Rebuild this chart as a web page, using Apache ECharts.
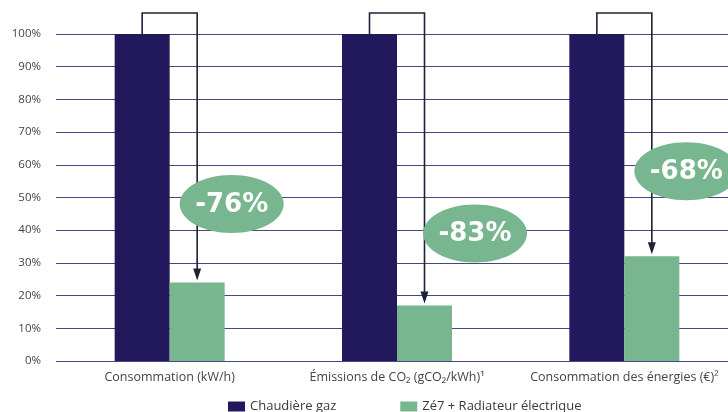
<!DOCTYPE html>
<html>
<head>
<meta charset="utf-8">
<script src="https://cdn.jsdelivr.net/npm/echarts@6/dist/echarts.min.js"></script>
<style>
  html, body { margin: 0; padding: 0; background: #fff; overflow: hidden; }
  #main { width: 740px; height: 412px; }
</style>
</head>
<body>
<div id="main"></div>
<script>
// catégories et valeurs (en % de la chaudière gaz)
var categories = ['Consommation (kW/h)', 'Émissions de CO₂ (gCO₂/kWh)¹', 'Consommation des énergies (€)²'];
var gasValues = [100, 100, 100];
var elecValues = [24, 17, 32];
var reductions = ['-76%', '-83%', '-68%'];
var badgeLevels = [48, 39, 58];   // hauteur des pastilles, en %
var yTicks = [0, 10, 20, 30, 40, 50, 60, 70, 80, 90, 100];

var NAVY = '#22195c';
var GREEN = '#77b68e';
var FONT = '"Open Sans", "DejaVu Sans", sans-serif';

// le graphique déborde un peu à droite, comme l'original (coupé au bord)
var chart = echarts.init(document.getElementById('main'));

var arrowData = categories.map(function (c, i) {
    return [i, elecValues[i], badgeLevels[i], reductions[i]];
});

var option = {
    animation: false,
    grid: {
        left: 56,
        top: 34,
        right: 2,
        height: 327
    },
    legend: {
        data: ['Chaudière gaz', 'Zé7 + Radiateur électrique'],
        left: 228,
        top: 400,
        padding: 0,
        itemWidth: 17,
        itemHeight: 10,
        itemGap: 64,
        icon: 'rect',
        textStyle: { color: '#3a3a3a', fontSize: 13, fontFamily: FONT }
    },
    xAxis: {
        type: 'category',
        data: categories,
        axisLine: { show: false },
        axisTick: { show: false },
        axisLabel: {
            color: '#444',
            fontSize: 12.5,
            fontFamily: FONT,
            margin: 10,
            interval: 0
        }
    },
    yAxis: {
        type: 'value',
        min: 0,
        max: 100,
        interval: 10,
        axisLabel: {
            color: '#444',
            fontSize: 11.5,
            fontFamily: FONT,
            margin: 15,
            formatter: function (v) { return yTicks.indexOf(v) >= 0 ? v + '%' : ''; }
        },
        splitLine: { lineStyle: { color: '#4a4384', width: 1 } }
    },
    series: [
        {
            name: 'Chaudière gaz',
            type: 'bar',
            data: gasValues,
            barWidth: 55,
            barGap: '0%',
            itemStyle: { color: NAVY }
        },
        {
            name: 'Zé7 + Radiateur électrique',
            type: 'bar',
            data: elecValues,
            barWidth: 55,
            itemStyle: { color: GREEN }
        },
        {
            // flèches et pastilles de réduction
            type: 'custom',
            clip: false,
            z: 5,
            data: arrowData,
            renderItem: function (params, api) {
                var i = api.value(0);
                var top = api.coord([i, 100]);
                var low = api.coord([i, api.value(1)]);
                var badge = api.coord([i, api.value(2)]);
                var shift = [62, 78, 62][params.dataIndex];
                var x1 = top[0] - 27.5;
                var x2 = top[0] + 27.5;
                var yTop = top[1] - 21;
                var tipY = low[1] - 2;
                return {
                    type: 'group',
                    children: [
                        {
                            type: 'polyline',
                            shape: { points: [[x1, top[1]], [x1, yTop], [x2, yTop], [x2, tipY - 10]] },
                            style: { stroke: '#1e2236', lineWidth: 1.6, fill: null }
                        },
                        {
                            type: 'polygon',
                            shape: { points: [[x2 - 4, tipY - 12], [x2 + 4, tipY - 12], [x2, tipY]] },
                            style: { fill: '#1e2236' }
                        },
                        {
                            type: 'ellipse',
                            shape: { cx: top[0] + shift, cy: badge[1], rx: 52, ry: 29 },
                            style: { fill: GREEN }
                        },
                        {
                            type: 'text',
                            style: {
                                text: api.value(3),
                                x: top[0] + shift,
                                y: badge[1] + 1,
                                align: 'center',
                                verticalAlign: 'middle',
                                fill: '#fff',
                                font: 'bold 26px "DejaVu Sans", sans-serif'
                            }
                        }
                    ]
                };
            }
        }
    ]
};

chart.setOption(option);
</script>
</body>
</html>
